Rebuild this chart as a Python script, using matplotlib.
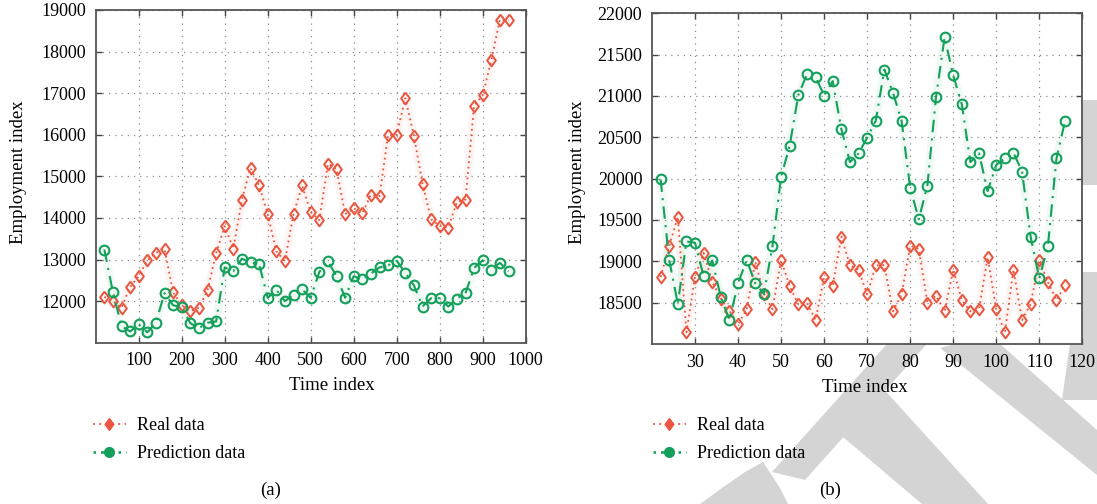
import matplotlib
matplotlib.use("Agg")
import matplotlib.pyplot as plt
from matplotlib.patches import Polygon
from matplotlib.lines import Line2D

# (a) time index and values
time_a = [20, 40, 60, 80, 100, 120, 140, 160, 180, 200, 220, 240, 260, 280, 300, 320,
          340, 360, 380, 400, 420, 440, 460, 480, 500, 520, 540, 560, 580, 600, 620, 640,
          660, 680, 700, 720, 740, 760, 780, 800, 820, 840, 860, 880, 900, 920, 940, 960]
real_a = [12100, 12000, 11840, 12340, 12600, 12980, 13160, 13260, 12210, 11900, 11760, 11840,
          12260, 13150, 13800, 13260, 14440, 15200, 14780, 14090, 13200, 12960, 14090, 14780,
          14140, 13950, 15300, 15180, 14090, 14230, 14110, 14560, 14520, 16000, 16000, 16880,
          15980, 14820, 13970, 13810, 13770, 14380, 14440, 16700, 16950, 17790, 18770, 18750]
pred_a = [13240, 12220, 11400, 11270, 11440, 11250, 11480, 12190, 11900, 11850, 11470, 11350,
          11480, 11510, 12810, 12720, 13020, 12930, 12890, 12080, 12270, 12000, 12150, 12280,
          12080, 12700, 12960, 12600, 12080, 12600, 12520, 12660, 12810, 12860, 12970, 12680,
          12380, 11870, 12070, 12070, 11870, 12060, 12190, 12800, 12980, 12760, 12920, 12720]

# (b) time index and values
time_b = [22, 24, 26, 28, 30, 32, 34, 36, 38, 40, 42, 44, 46, 48, 50, 52, 54, 56, 58, 60,
          62, 64, 66, 68, 70, 72, 74, 76, 78, 80, 82, 84, 86, 88, 90, 92, 94, 96, 98, 100,
          102, 104, 106, 108, 110, 112, 114, 116]
real_b = [18810, 19185, 19540, 18140, 18815, 19100, 18750, 18550, 18400, 18240, 18420, 18995,
          18610, 18420, 19015, 18700, 18480, 18500, 18290, 18810, 18705, 19300, 18950, 18900,
          18600, 18950, 18955, 18395, 18600, 19190, 19150, 18500, 18585, 18395, 18900, 18530,
          18395, 18420, 19050, 18420, 18140, 18900, 18290, 18485, 19015, 18750, 18530, 18710]
pred_b = [19990, 19015, 18485, 19240, 19225, 18820, 19010, 18565, 18290, 18735, 19015, 18735,
          18605, 19185, 20020, 20400, 21010, 21260, 21235, 21005, 21180, 20600, 20200, 20305,
          20495, 20700, 21320, 21040, 20700, 19890, 19510, 19915, 20985, 21710, 21250, 20900,
          20200, 20305, 19850, 20165, 20245, 20315, 20085, 19295, 18795, 19180, 20245, 20700]

xticks_a = [100, 200, 300, 400, 500, 600, 700, 800, 900, 1000]
yticks_a = [12000, 13000, 14000, 15000, 16000, 17000, 18000, 19000]
xticks_b = [30, 40, 50, 60, 70, 80, 90, 100, 110, 120]
yticks_b = [18500, 19000, 19500, 20000, 20500, 21000, 21500, 22000]

RED = "#e9553e"
GREEN = "#13a05b"
# a diamond a bit narrower than it is tall
DIAMOND = [(0, 1), (0.74, 0), (0, -1), (-0.74, 0), (0, 1)]

plt.rcParams['font.family'] = ['Liberation Serif', 'DejaVu Serif']
plt.rcParams['font.size'] = 13

W, H = 1097, 504
fig = plt.figure(figsize=(W / 100, H / 100), dpi=100)


def px(x, y):
    return (x / W, 1 - y / H)


# grey watermark pieces, sitting behind the white axes
marks = [
    [(700, 504), (722, 488), (745, 472), (763, 462), (780, 488), (788, 504)],
    [(772, 472), (805, 480), (935, 335), (895, 335)],
    [(843, 437), (922, 504), (988, 504), (880, 385), (835, 425)],
    [(940, 348), (990, 335), (1097, 430), (1097, 475)],
    [(1062, 400), (1097, 400), (1097, 272), (1080, 272)],
    [(1082, 100), (1097, 100), (1097, 185), (1082, 185)],
]
for m in marks:
    fig.add_artist(Polygon([px(*p) for p in m], closed=True, facecolor="#d4d4d4",
                           edgecolor="none", transform=fig.transFigure, zorder=-5))


def style_axes(ax, xlim, ylim, xt, yt):
    ax.set_facecolor("white")
    ax.set_xlim(*xlim)
    ax.set_ylim(*ylim)
    ax.set_xticks(xt)
    ax.set_yticks(yt)
    ax.grid(True, linestyle=(0, (1, 4)), color="#8c8c8c", linewidth=0.9)
    ax.tick_params(direction="in", top=True, right=True, length=4, width=1,
                   color="#444444", labelsize=13, pad=7)
    for s in ax.spines.values():
        s.set_color("#555555")
        s.set_linewidth(1.3)


def draw(ax, t, real, pred):
    ax.plot(t, real, color=RED, lw=6, alpha=0.06, zorder=2)
    ax.plot(t, pred, color=GREEN, lw=6, alpha=0.06, zorder=2)
    ax.plot(t, real, color=RED, ls=(0, (1, 2)), lw=1.3, marker=DIAMOND, markersize=8.5,
            markerfacecolor="none", markeredgewidth=1.4, zorder=3)
    ax.plot(t, pred, color=GREEN, ls=(0, (6, 3, 1, 3)), lw=1.5, marker="o", markersize=7,
            markerfacecolor="none", markeredgewidth=1.5, zorder=3)


def legend(ax, x, y):
    handles = [
        Line2D([], [], color=RED, ls=(0, (1, 2.5)), lw=1.3, marker=DIAMOND, markersize=8.5,
               markerfacecolor=RED, markeredgecolor=RED),
        Line2D([], [], color=GREEN, ls=(0, (1, 2, 5, 2)), lw=1.8, marker="o", markersize=7,
               markerfacecolor=GREEN, markeredgecolor=GREEN),
    ]
    ax.legend(handles, ["Real data", "Prediction data"], loc="upper left",
              bbox_to_anchor=px(x, y), bbox_transform=fig.transFigure, frameon=False,
              handlelength=1.8, handletextpad=0.65, labelspacing=0.62, fontsize=13,
              borderaxespad=0, borderpad=0)


axa = fig.add_axes([95.7 / W, 1 - 342.7 / H, 430 / W, 332.7 / H])
style_axes(axa, (0, 1000), (11000, 19000), xticks_a, yticks_a)
draw(axa, time_a, real_a, pred_a)
legend(axa, 93, 417)

axb = fig.add_axes([652 / W, 1 - 344 / H, 430.3 / W, 330.7 / H])
style_axes(axb, (20, 120), (18000, 22000), xticks_b, yticks_b)
draw(axb, time_b, real_b, pred_b)
legend(axb, 653, 417)

for (x, y), s, rot in [((332, 385), "Time index", 0), ((865, 387), "Time index", 0),
                       ((19, 172), "Employment index", 90), ((577, 172), "Employment index", 90),
                       ((271, 490), "(a)", 0), ((830, 490), "(b)", 0)]:
    fig.text(*px(x, y), s, rotation=rot, ha="center", va="center", fontsize=13.5)

fig.savefig("out.png", dpi=100)
